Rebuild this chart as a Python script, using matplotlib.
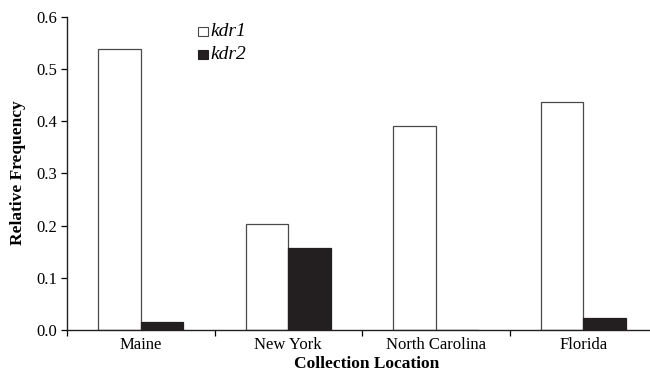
import matplotlib
matplotlib.use("Agg")
import matplotlib.pyplot as plt
import numpy as np
from matplotlib.patches import Rectangle

locations = ["Maine", "New York", "North Carolina", "Florida"]
kdr1 = [0.539, 0.203, 0.391, 0.437]
kdr2 = [0.015, 0.157, 0.0, 0.023]
series_names = ["kdr1", "kdr2"]
y_ticks = [0.0, 0.1, 0.2, 0.3, 0.4, 0.5, 0.6]

SERIF = ["Liberation Serif", "DejaVu Serif"]
plt.rcParams["font.family"] = SERIF

W, H = 650, 372
fig = plt.figure(figsize=(W / 100, H / 100), dpi=100)
ax = fig.add_axes([67 / W, 42 / H, 590 / W, 313 / H])

fill_colors = ["white", "#231f20"]
edge_colors = ["#4a4a4a", "#231f20"]

x = np.arange(len(locations))
bw = 0.288
ax.bar(x - bw / 2, kdr1, bw, facecolor=fill_colors[0], edgecolor=edge_colors[0], linewidth=0.9)
ax.bar(x + bw / 2, kdr2, bw, facecolor=fill_colors[1], edgecolor=edge_colors[1], linewidth=0.9)

ax.set_xlim(-0.5, len(locations) - 0.5)
ax.set_ylim(0, 0.6)
ax.set_yticks(y_ticks)
ax.set_yticklabels([f"{v:.1f}" for v in y_ticks], fontsize=12)

ax.set_xticks(x)
ax.set_xticklabels(locations, fontsize=12)
ax.tick_params(axis="x", which="major", length=0, pad=5)
ax.set_xticks(np.arange(len(locations) + 1) - 0.5, minor=True)
ax.tick_params(axis="x", which="minor", length=4, width=0.9, direction="out")
ax.tick_params(axis="y", length=4, width=0.9, direction="out", pad=3)

for s in ["top", "right"]:
    ax.spines[s].set_visible(False)
for s in ["left", "bottom"]:
    ax.spines[s].set_linewidth(1.0)
    ax.spines[s].set_color("#231f20")

fig.text(367 / W, 1 - 364 / H, "Collection Location", ha="center", va="center",
         fontsize=12.5, fontweight="bold")
fig.text(18 / W, 1 - 173 / H, "Relative Frequency", ha="center", va="center",
         rotation=90, fontsize=12.5, fontweight="bold")

# key: small square swatch followed by italic series name
for i, name in enumerate(series_names):
    cy = 31.5 + 23 * i
    fig.add_artist(Rectangle((198 / W, 1 - (cy + 4.5) / H), 9.5 / W, 9 / H,
                             transform=fig.transFigure, facecolor=fill_colors[i],
                             edgecolor=edge_colors[i], linewidth=0.8))
    fig.text(210 / W, 1 - cy / H, name, ha="left", va="center",
             fontsize=14, style="italic", family=SERIF)

fig.savefig("out.png", dpi=100)
